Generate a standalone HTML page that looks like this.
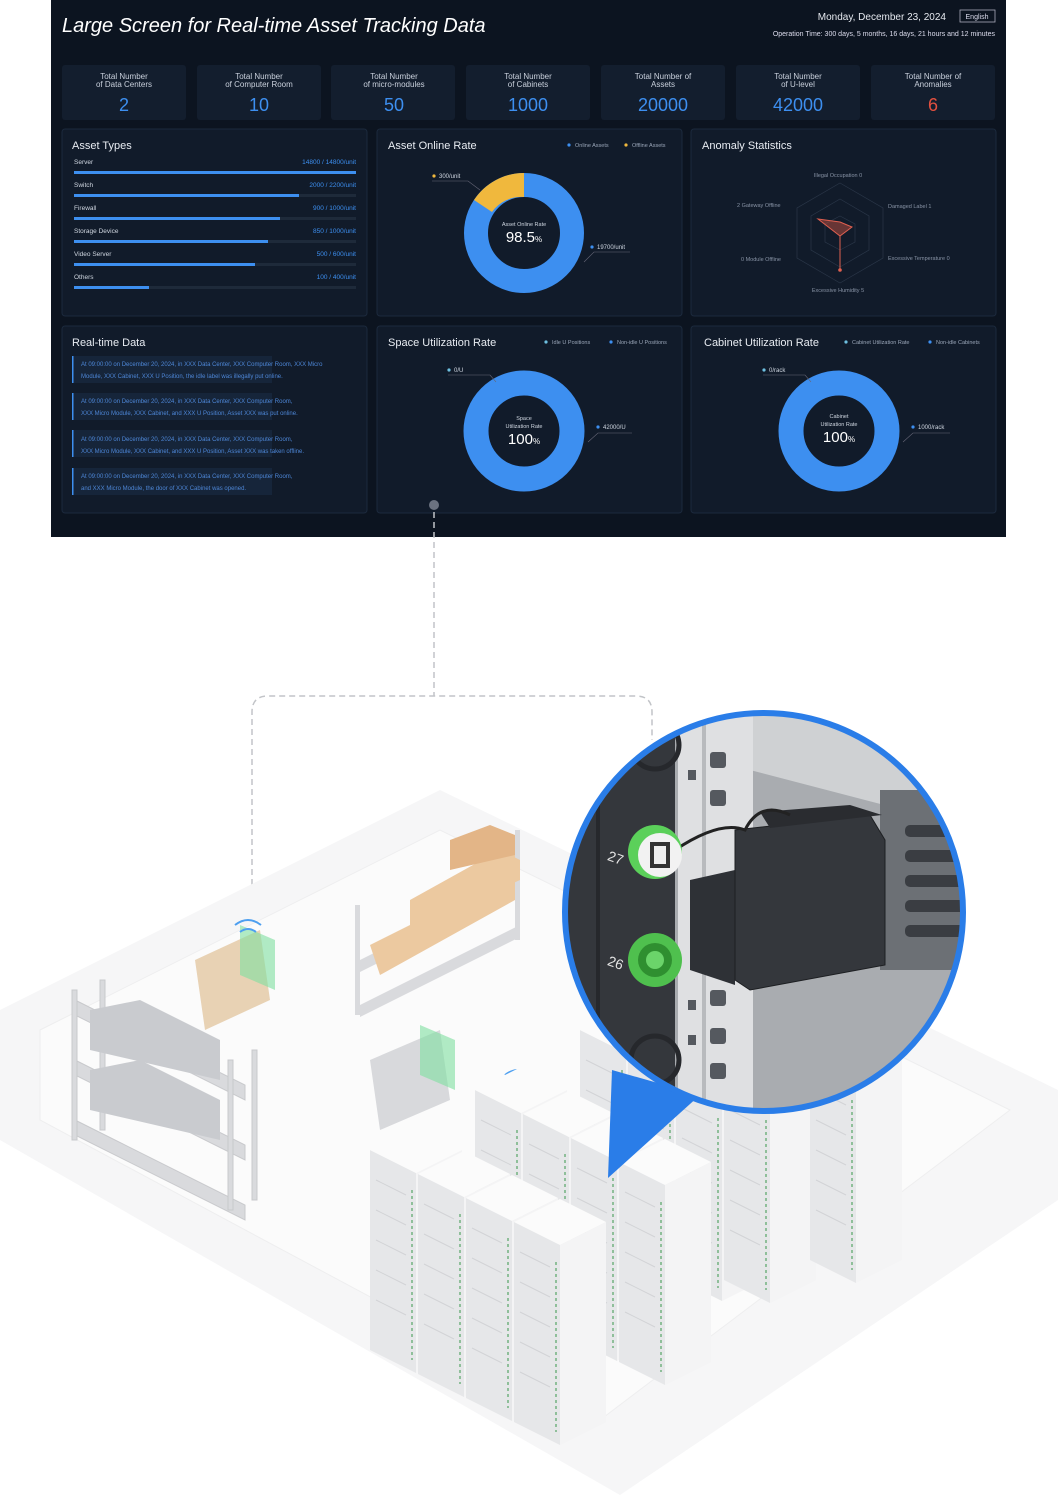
<!DOCTYPE html>
<html><head><meta charset="utf-8"><style>
html,body{margin:0;padding:0;background:#fff;}
svg{display:block;font-family:"Liberation Sans",sans-serif;}
</style></head><body>
<svg width="1058" height="1500" viewBox="0 0 1058 1500" xmlns="http://www.w3.org/2000/svg">
<defs>
<clipPath id="cc"><circle cx="764" cy="912" r="198"/></clipPath>
<g id="cab">
 <polygon points="0,0 46,23 46,223 0,200" fill="#e6e7e9"/>
 <polygon points="46,23 92,0 92,200 46,223" fill="#f4f4f5"/>
 <polygon points="0,0 46,-23 92,0 46,23" fill="#fbfbfb"/>
 <line x1="42" y1="40" x2="42" y2="210" stroke="#8fbf9a" stroke-width="2" stroke-dasharray="3,3"/>
 <g stroke="#d2d3d6" stroke-width="1"><line x1="6" y1="30" x2="36" y2="45"/><line x1="6" y1="60" x2="36" y2="75"/><line x1="6" y1="90" x2="36" y2="105"/><line x1="6" y1="120" x2="36" y2="135"/><line x1="6" y1="150" x2="36" y2="165"/></g>
</g>
</defs>
<rect width="1058" height="1500" fill="#fff"/>
<!-- dashboard -->
<rect x="51" y="0" width="955" height="537" fill="#0c1420"/>
<text x="62" y="32" fill="#fff" font-size="20" font-style="italic">Large Screen for Real-time Asset Tracking Data</text>
<text x="946" y="20" fill="#e6e9ef" font-size="10" text-anchor="end">Monday, December 23, 2024</text>
<rect x="960" y="10" width="35" height="12" fill="none" stroke="#aab" stroke-width="0.8"/>
<text x="977" y="19" fill="#dde" font-size="7" text-anchor="middle">English</text>
<text x="995" y="36" fill="#dde" font-size="7" text-anchor="end">Operation Time: 300 days, 5 months, 16 days, 21 hours and 12 minutes</text>
<g font-size="8" fill="#c9d0dc" text-anchor="middle">
<g><rect x="62" y="65" width="124" height="55" rx="3" fill="#131e2e"/><text x="124" y="79">Total Number</text><text x="124" y="87">of Data Centers</text><text x="124" y="111" font-size="18" fill="#3d8ff0">2</text></g>
<g><rect x="197" y="65" width="124" height="55" rx="3" fill="#131e2e"/><text x="259" y="79">Total Number</text><text x="259" y="87">of Computer Room</text><text x="259" y="111" font-size="18" fill="#3d8ff0">10</text></g>
<g><rect x="331" y="65" width="124" height="55" rx="3" fill="#131e2e"/><text x="394" y="79">Total Number</text><text x="394" y="87">of micro-modules</text><text x="394" y="111" font-size="18" fill="#3d8ff0">50</text></g>
<g><rect x="466" y="65" width="124" height="55" rx="3" fill="#131e2e"/><text x="528" y="79">Total Number</text><text x="528" y="87">of Cabinets</text><text x="528" y="111" font-size="18" fill="#3d8ff0">1000</text></g>
<g><rect x="601" y="65" width="124" height="55" rx="3" fill="#131e2e"/><text x="663" y="79">Total Number of</text><text x="663" y="87">Assets</text><text x="663" y="111" font-size="18" fill="#3d8ff0">20000</text></g>
<g><rect x="736" y="65" width="124" height="55" rx="3" fill="#131e2e"/><text x="798" y="79">Total Number</text><text x="798" y="87">of U-level</text><text x="798" y="111" font-size="18" fill="#3d8ff0">42000</text></g>
<g><rect x="871" y="65" width="124" height="55" rx="3" fill="#131e2e"/><text x="933" y="79">Total Number of</text><text x="933" y="87">Anomalies</text><text x="933" y="111" font-size="18" fill="#e2503f">6</text></g>
</g>
<g fill="#111b2a" stroke="#1c2a3d">
<rect x="62" y="129" width="305" height="187" rx="3"/><rect x="377" y="129" width="305" height="187" rx="3"/><rect x="691" y="129" width="305" height="187" rx="3"/>
<rect x="62" y="326" width="305" height="187" rx="3"/><rect x="377" y="326" width="305" height="187" rx="3"/><rect x="691" y="326" width="305" height="187" rx="3"/>
</g>
<g fill="#e8ecf2" font-size="11">
<text x="72" y="149">Asset Types</text><text x="388" y="149">Asset Online Rate</text><text x="702" y="149">Anomaly Statistics</text>
<text x="72" y="346">Real-time Data</text><text x="388" y="346">Space Utilization Rate</text><text x="704" y="346">Cabinet Utilization Rate</text>
</g>
<!-- asset types -->
<g font-size="6.5" fill="#cfd6e0">
<text x="74" y="164">Server</text><text x="356" y="164" text-anchor="end" fill="#3d8ff0">14800 / 14800/unit</text>
<rect x="74" y="171" width="282" height="3" fill="#1e2a3a"/><rect x="74" y="171" width="282" height="3" fill="#3d8ff0"/>
<text x="74" y="187">Switch</text><text x="356" y="187" text-anchor="end" fill="#3d8ff0">2000 / 2200/unit</text>
<rect x="74" y="194" width="282" height="3" fill="#1e2a3a"/><rect x="74" y="194" width="225" height="3" fill="#3d8ff0"/>
<text x="74" y="210">Firewall</text><text x="356" y="210" text-anchor="end" fill="#3d8ff0">900 / 1000/unit</text>
<rect x="74" y="217" width="282" height="3" fill="#1e2a3a"/><rect x="74" y="217" width="206" height="3" fill="#3d8ff0"/>
<text x="74" y="233">Storage Device</text><text x="356" y="233" text-anchor="end" fill="#3d8ff0">850 / 1000/unit</text>
<rect x="74" y="240" width="282" height="3" fill="#1e2a3a"/><rect x="74" y="240" width="194" height="3" fill="#3d8ff0"/>
<text x="74" y="256">Video Server</text><text x="356" y="256" text-anchor="end" fill="#3d8ff0">500 / 600/unit</text>
<rect x="74" y="263" width="282" height="3" fill="#1e2a3a"/><rect x="74" y="263" width="181" height="3" fill="#3d8ff0"/>
<text x="74" y="279">Others</text><text x="356" y="279" text-anchor="end" fill="#3d8ff0">100 / 400/unit</text>
<rect x="74" y="286" width="282" height="3" fill="#1e2a3a"/><rect x="74" y="286" width="75" height="3" fill="#3d8ff0"/>
</g>
<!-- online rate donut -->
<g font-size="5.5" fill="#9aa6b8"><circle cx="569" cy="145" r="1.6" fill="#3d8ff0"/><text x="575" y="147">Online Assets</text><circle cx="626" cy="145" r="1.6" fill="#f0b83d"/><text x="632" y="147">Offline Assets</text></g>
<circle cx="524" cy="233" r="48" fill="none" stroke="#3d8ff0" stroke-width="24"/>
<path d="M524 173 A60 60 0 0 0 474 200 L492 212 A36 36 0 0 1 524 197Z" fill="#f0b83d"/>
<text x="524" y="226" fill="#cfd6e0" font-size="5.5" text-anchor="middle">Asset Online Rate</text>
<text x="524" y="242" fill="#fff" font-size="15" text-anchor="middle">98.5<tspan font-size="8">%</tspan></text>
<g font-size="6" fill="#cfd6e0"><circle cx="434" cy="176" r="1.6" fill="#f0b83d"/><text x="439" y="178">300/unit</text><path d="M432 181 L468 181 L480 190" stroke="#667" fill="none" stroke-width="0.6"/>
<circle cx="592" cy="247" r="1.6" fill="#3d8ff0"/><text x="597" y="249">19700/unit</text><path d="M630 252 L594 252 L584 262" stroke="#667" fill="none" stroke-width="0.6"/></g>
<!-- radar -->
<g fill="none" stroke="#2a3648" stroke-width="0.7">
<polygon points="840,183 883,208 883,258 840,283 797,258 797,208"/>
<polygon points="840,199 869,216 869,250 840,267 811,250 811,216"/>
<polygon points="840,216 855,224 855,242 840,250 825,242 825,224"/>
</g>
<polygon points="840,222 852,227 840,236 818,219" fill="#c0503f" fill-opacity="0.5" stroke="#e06050"/>
<line x1="840" y1="236" x2="840" y2="270" stroke="#e06050"/><circle cx="840" cy="270" r="1.8" fill="#e06050"/>
<g font-size="5.5" fill="#8893a5"><text x="838" y="177" text-anchor="middle">Illegal Occupation   0</text><text x="737" y="207">2    Gateway Offline</text><text x="888" y="208">Damaged Label    1</text><text x="741" y="261">0    Module Offline</text><text x="888" y="260">Excessive Temperature    0</text><text x="838" y="292" text-anchor="middle">Excessive Humidity 5</text></g>
<!-- real-time data -->
<g font-size="6" fill="#4d86d6">
<rect x="72" y="356" width="200" height="27" fill="#16253a"/><rect x="72" y="356" width="1.5" height="27" fill="#3d8ff0"/>
<text x="81" y="366">At 09:00:00 on December 20, 2024, in XXX Data Center, XXX Computer Room, XXX Micro</text><text x="81" y="378">Module, XXX Cabinet, XXX U Position, the idle label was illegally put online.</text>
<rect x="72" y="393" width="200" height="27" fill="#16253a"/><rect x="72" y="393" width="1.5" height="27" fill="#3d8ff0"/>
<text x="81" y="403">At 09:00:00 on December 20, 2024, in XXX Data Center, XXX Computer Room,</text><text x="81" y="415">XXX Micro Module, XXX Cabinet, and XXX U Position, Asset XXX was put online.</text>
<rect x="72" y="430" width="200" height="27" fill="#16253a"/><rect x="72" y="430" width="1.5" height="27" fill="#3d8ff0"/>
<text x="81" y="441">At 09:00:00 on December 20, 2024, in XXX Data Center, XXX Computer Room,</text><text x="81" y="453">XXX Micro Module, XXX Cabinet, and XXX U Position, Asset XXX was taken offline.</text>
<rect x="72" y="468" width="200" height="27" fill="#16253a"/><rect x="72" y="468" width="1.5" height="27" fill="#3d8ff0"/>
<text x="81" y="478">At 09:00:00 on December 20, 2024, in XXX Data Center, XXX Computer Room,</text><text x="81" y="490">and XXX Micro Module, the door of XXX Cabinet was opened.</text>
</g>
<!-- space util -->
<g font-size="5.5" fill="#9aa6b8"><circle cx="546" cy="342" r="1.6" fill="#6ec0e0"/><text x="552" y="344">Idle U Positions</text><circle cx="611" cy="342" r="1.6" fill="#3d8ff0"/><text x="617" y="344">Non-idle U Positions</text>
<circle cx="846" cy="342" r="1.6" fill="#6ec0e0"/><text x="852" y="344">Cabinet Utilization Rate</text><circle cx="930" cy="342" r="1.6" fill="#3d8ff0"/><text x="936" y="344">Non-idle Cabinets</text></g>
<circle cx="524" cy="431" r="48" fill="none" stroke="#3d8ff0" stroke-width="25"/>
<circle cx="839" cy="431" r="48" fill="none" stroke="#3d8ff0" stroke-width="25"/>
<g text-anchor="middle" fill="#cfd6e0" font-size="5.5"><text x="524" y="420">Space</text><text x="524" y="428">Utilization Rate</text><text x="524" y="444" font-size="15" fill="#fff">100<tspan font-size="8">%</tspan></text>
<text x="839" y="418">Cabinet</text><text x="839" y="426">Utilization Rate</text><text x="839" y="442" font-size="15" fill="#fff">100<tspan font-size="8">%</tspan></text></g>
<g font-size="6" fill="#cfd6e0"><circle cx="449" cy="370" r="1.6" fill="#6ec0e0"/><text x="454" y="372">0/U</text><path d="M448 375 L490 375 L496 382" stroke="#667" fill="none" stroke-width="0.6"/>
<circle cx="598" cy="427" r="1.6" fill="#3d8ff0"/><text x="603" y="429">42000/U</text><path d="M632 433 L598 433 L588 442" stroke="#667" fill="none" stroke-width="0.6"/>
<circle cx="764" cy="370" r="1.6" fill="#6ec0e0"/><text x="769" y="372">0/rack</text><path d="M763 375 L805 375 L811 382" stroke="#667" fill="none" stroke-width="0.6"/>
<circle cx="913" cy="427" r="1.6" fill="#3d8ff0"/><text x="918" y="429">1000/rack</text><path d="M950 433 L913 433 L903 442" stroke="#667" fill="none" stroke-width="0.6"/></g>
<circle cx="434" cy="505" r="5" fill="#6b7280"/>
<!-- connectors -->
<g fill="none" stroke="#c2c4c8" stroke-width="1.5" stroke-dasharray="6,4">
<path d="M434 512 L434 696"/>
<path d="M252 895 L252 712 Q252 696 268 696 L636 696 Q652 696 652 712 L652 740"/>
</g>
<circle cx="252" cy="895" r="5" fill="#cfd1d4"/>
<!-- floor -->
<polygon points="0,1010 440,790 1058,1090 1058,1200 620,1495 0,1140" fill="#f6f6f7"/>
<polygon points="40,1030 440,830 1010,1110 600,1420 40,1120" fill="#fbfbfb" stroke="#eeeeef"/>
<!-- left shelves -->
<g fill="#d9dadd" stroke="#c8c9cc" stroke-width="1">
<polygon points="75,1000 245,1085 245,1100 75,1015"/>
<polygon points="75,1060 245,1145 245,1160 75,1075"/>
<polygon points="75,1120 245,1205 245,1220 75,1135"/>
<rect x="72" y="990" width="5" height="150"/><rect x="100" y="980" width="5" height="150"/><rect x="228" y="1060" width="5" height="150"/><rect x="252" y="1050" width="5" height="150"/>
</g>
<g fill="#c9cbcf"><polygon points="90,1010 140,1000 220,1040 220,1080 90,1050"/><polygon points="90,1070 140,1060 220,1100 220,1140 90,1110"/></g>
<!-- boxes shelf -->
<g fill="#d9dadd"><rect x="355" y="905" width="5" height="110"/><rect x="515" y="830" width="5" height="110"/><polygon points="360,960 520,880 520,892 360,972"/><polygon points="360,1005 520,925 520,937 360,1017"/></g>
<g fill="#ecc9a0"><polygon points="370,945 470,895 515,850 515,900 380,975"/><polygon points="410,900 500,850 520,860 520,880 410,930"/></g>
<g fill="#e3b587"><polygon points="450,840 490,825 515,835 515,855 450,870"/></g>
<!-- carts -->
<polygon points="195,960 260,930 270,1000 205,1030" fill="#e8d2b4"/>
<polygon points="240,925 275,940 275,990 240,975" fill="#7fe0a0" opacity="0.6"/>
<polygon points="370,1060 440,1030 450,1100 380,1130" fill="#d8d9dc"/>
<polygon points="420,1025 455,1040 455,1090 420,1075" fill="#7fe0a0" opacity="0.6"/>
<g fill="none" stroke="#4d9ff0" stroke-width="2"><path d="M235 925 Q248 915 261 925"/><path d="M240 932 Q248 926 256 932"/><path d="M505 1075 Q518 1065 531 1075"/><path d="M510 1082 Q518 1076 526 1082"/></g>
<!-- cabinets -->
<use href="#cab" x="580" y="1030"/><use href="#cab" x="628" y="1054"/><use href="#cab" x="676" y="1078"/><use href="#cab" x="724" y="1080"/><use href="#cab" x="810" y="1060"/>
<use href="#cab" x="475" y="1090"/><use href="#cab" x="523" y="1114"/><use href="#cab" x="571" y="1138"/><use href="#cab" x="619" y="1162"/>
<use href="#cab" x="370" y="1150"/><use href="#cab" x="418" y="1174"/><use href="#cab" x="466" y="1198"/><use href="#cab" x="514" y="1222"/>
<!-- pointer -->
<polygon points="612,1070 700,1095 608,1178" fill="#2a7de8"/>
<!-- zoom circle -->
<g clip-path="url(#cc)">
<rect x="560" y="700" width="420" height="420" fill="#a9acb0"/>
<polygon points="750,700 980,700 980,830 750,770" fill="#cfd1d3"/>
<rect x="880" y="790" width="100" height="180" fill="#6c7075"/>
<g fill="#3a3d42"><rect x="905" y="825" width="60" height="12" rx="5"/><rect x="905" y="850" width="60" height="12" rx="5"/><rect x="905" y="875" width="60" height="12" rx="5"/><rect x="905" y="900" width="60" height="12" rx="5"/><rect x="905" y="925" width="60" height="12" rx="5"/></g>
<rect x="560" y="700" width="115" height="420" fill="#34373c"/>
<rect x="596" y="700" width="4" height="420" fill="#26282c"/>
<rect x="678" y="700" width="75" height="420" fill="#dfe0e2"/>
<rect x="702" y="700" width="4" height="420" fill="#b8babd"/>
<g fill="#55595f"><rect x="710" y="752" width="16" height="16" rx="3"/><rect x="710" y="790" width="16" height="16" rx="3"/><rect x="710" y="990" width="16" height="16" rx="3"/><rect x="710" y="1028" width="16" height="16" rx="3"/><rect x="710" y="1063" width="16" height="16" rx="3"/><rect x="688" y="770" width="8" height="10"/><rect x="688" y="1000" width="8" height="10"/><rect x="688" y="1035" width="8" height="10"/></g>
<polygon points="690,880 735,870 735,985 690,970" fill="#2e3136"/>
<polygon points="735,830 870,815 885,840 885,965 750,990 735,980" fill="#34373c" stroke="#1d1f22"/>
<polygon points="760,812 850,805 882,815 770,828" fill="#2a2c30"/>
<path d="M675 850 Q720 820 745 830 Q760 800 790 815" fill="none" stroke="#222" stroke-width="3"/>
<circle cx="655" cy="852" r="27" fill="#5bd05a"/><circle cx="660" cy="855" r="22" fill="#f2f2f2"/>
<rect x="650" y="842" width="20" height="26" fill="#333"/><rect x="654" y="846" width="12" height="18" fill="#eee"/>
<circle cx="655" cy="960" r="27" fill="#4fc04e"/><circle cx="655" cy="960" r="17" fill="#2f8f30"/><circle cx="655" cy="960" r="9" fill="#6bd46a"/>
<circle cx="655" cy="745" r="24" fill="none" stroke="#26282c" stroke-width="5"/><circle cx="655" cy="1060" r="24" fill="none" stroke="#26282c" stroke-width="5"/>
<text x="608" y="860" fill="#e5e5e5" font-size="14" transform="rotate(20 608 856)">27</text>
<text x="608" y="965" fill="#e5e5e5" font-size="14" transform="rotate(20 608 961)">26</text>
</g>
<circle cx="764" cy="912" r="199" fill="none" stroke="#2a7de8" stroke-width="6"/>
</svg>
</body></html>
